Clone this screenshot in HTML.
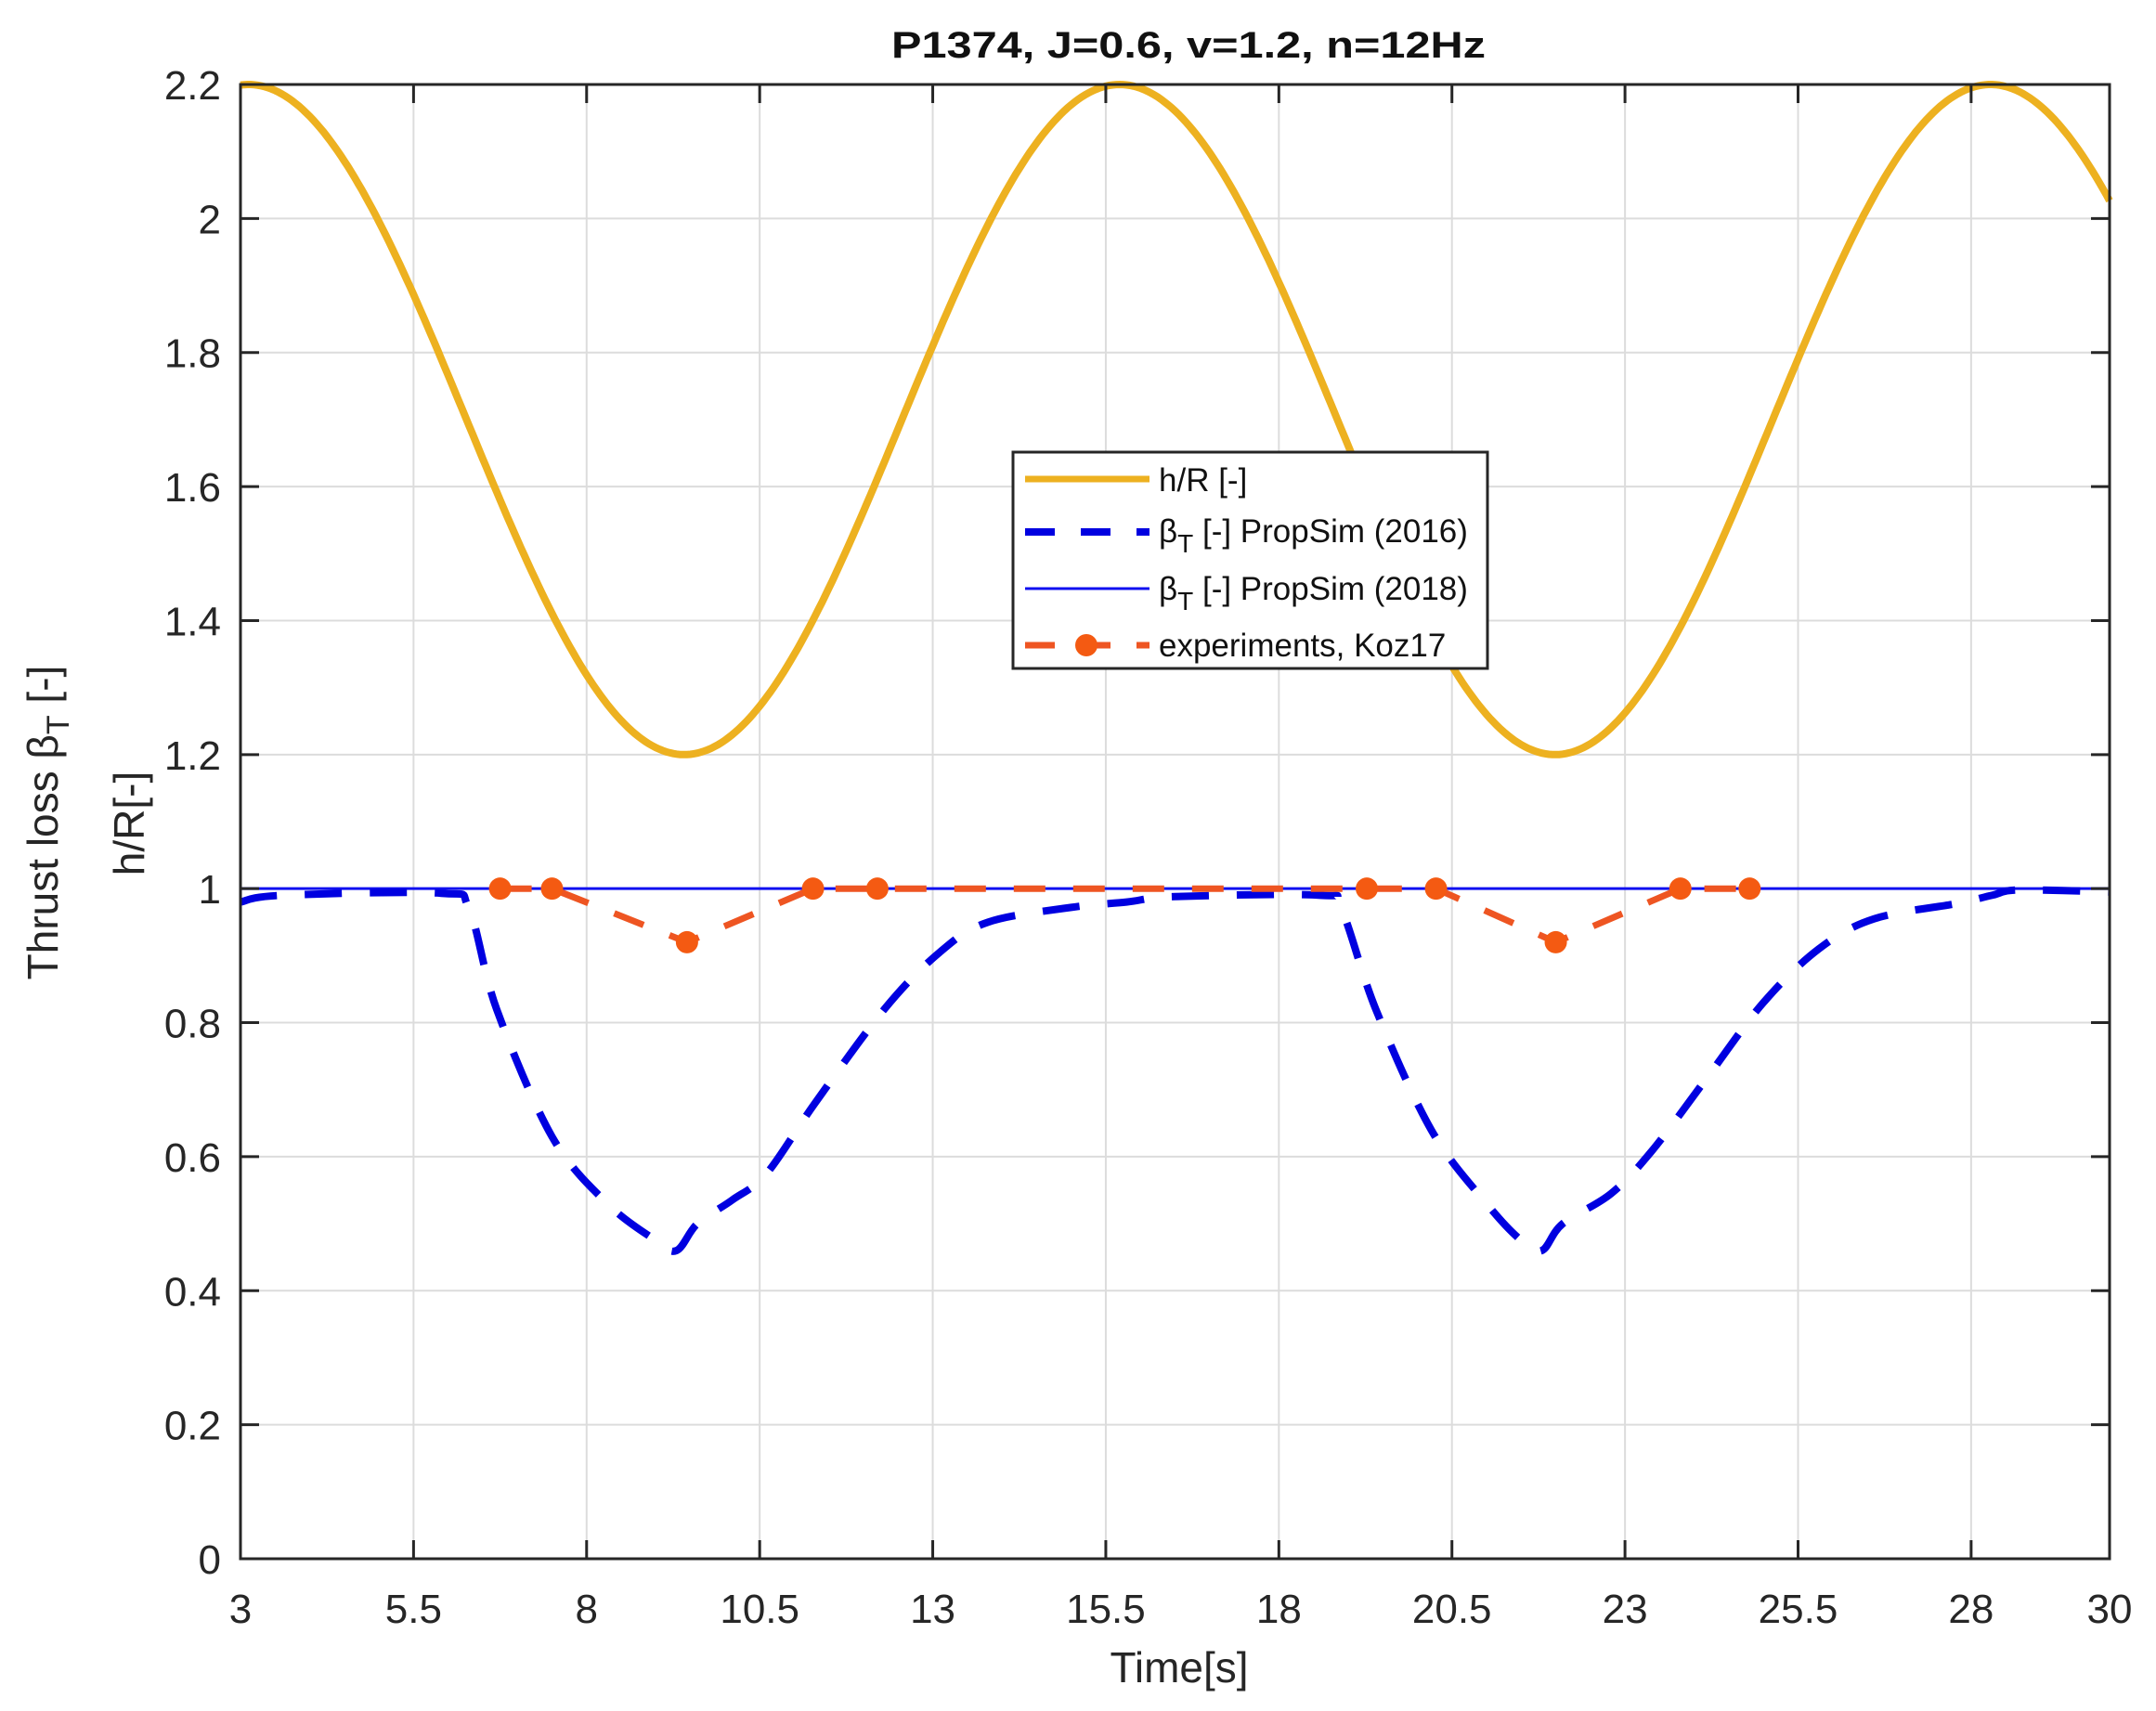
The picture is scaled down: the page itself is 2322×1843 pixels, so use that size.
<!DOCTYPE html>
<html><head><meta charset="utf-8">
<style>
html,body{margin:0;padding:0;background:#fff;}
svg{display:block;font-family:"Liberation Sans",Arial,sans-serif;}
</style></head>
<body>
<svg id="s" width="2322" height="1843" viewBox="0 0 2322 1843" xmlns="http://www.w3.org/2000/svg">
<rect width="2322" height="1843" fill="#fff"/>
<g id="grid" stroke="#dcdcdc" stroke-width="2"></g>
<g id="series"></g>
<rect x="259" y="91" width="2013" height="1588" fill="none" stroke="#262626" stroke-width="3"/>
<g id="ticks" stroke="#262626" stroke-width="3"></g>
<g id="labels" fill="#262626" font-size="44"></g>
<text x="1280" y="62" text-anchor="middle" font-size="40" font-weight="bold" fill="#111" textLength="640" lengthAdjust="spacingAndGlyphs">P1374, J=0.6, v=1.2, n=12Hz</text>
<text x="1270" y="1812" text-anchor="middle" font-size="46" fill="#262626">Time[s]</text>
<text transform="translate(62,886) rotate(-90)" text-anchor="middle" font-size="46" fill="#262626">Thrust loss β<tspan font-size="34" dy="12">T</tspan><tspan dy="-12"> [-]</tspan></text>
<text transform="translate(155,887) rotate(-90)" text-anchor="middle" font-size="46" fill="#262626">h/R[-]</text>
<g>
<rect x="1091" y="487" width="511" height="233" fill="#fff" stroke="#262626" stroke-width="3"/>
<line x1="1104" y1="516" x2="1238" y2="516" stroke="#EDB120" stroke-width="7"/>
<line x1="1104" y1="573" x2="1238" y2="573" stroke="#0000e0" stroke-width="8" stroke-dasharray="32,28"/>
<line x1="1104" y1="634" x2="1238" y2="634" stroke="#1010f0" stroke-width="3"/>
<line x1="1104" y1="695" x2="1238" y2="695" stroke="#EE5522" stroke-width="7" stroke-dasharray="32,28"/>
<circle cx="1170" cy="695" r="12" fill="#F45A12"/>
<g font-size="35" fill="#111">
<text x="1248" y="529">h/R [-]</text>
<text x="1248" y="584">β<tspan font-size="28" dy="11">T</tspan><tspan dy="-11"> [-] PropSim (2016)</tspan></text>
<text x="1248" y="646">β<tspan font-size="28" dy="11">T</tspan><tspan dy="-11"> [-] PropSim (2018)</tspan></text>
<text x="1248" y="707">experiments, Koz17</text>
</g>
</g>
</svg>
<script>
const NS="http://www.w3.org/2000/svg";
const X=t=>259+(t-3)*2013/27, Y=v=>1679-v*1588/2.2;
function el(p,tag,a,txt){const e=document.createElementNS(NS,tag);for(const k in a)e.setAttribute(k,a[k]);if(txt!==undefined)e.textContent=txt;document.getElementById(p).appendChild(e);return e;}
const xt=[3,5.5,8,10.5,13,15.5,18,20.5,23,25.5,28,30];
xt.forEach(t=>{const x=X(t);
 if(t>3&&t<30){el("grid","line",{x1:x,y1:91,x2:x,y2:1679});
 el("ticks","line",{x1:x,y1:1679,x2:x,y2:1659});el("ticks","line",{x1:x,y1:91,x2:x,y2:111});}
 el("labels","text",{x:x,y:1748,"text-anchor":"middle"},String(t));});
for(let i=0;i<=11;i++){const v=i*0.2,y=Y(v);
 if(i>0&&i<11){el("grid","line",{x1:259,y1:y,x2:2272,y2:y});
 el("ticks","line",{x1:259,y1:y,x2:279,y2:y});el("ticks","line",{x1:2272,y1:y,x2:2252,y2:y});}
 let s=(Math.round(v*10)/10).toString();
 el("labels","text",{x:238,y:y+16,"text-anchor":"end"},s);}
// orange
let d="";for(let t=3;t<=30.0001;t+=0.05){const v=1.7+0.5*Math.cos(2*Math.PI*(t-3.12)/12.58);d+=(d?"L":"M")+X(t).toFixed(1)+","+Y(v).toFixed(1);}
el("series","path",{d:d,fill:"none",stroke:"#EDB120","stroke-width":8});
// blue solid
el("series","line",{x1:259,y1:Y(1),x2:2272,y2:Y(1),stroke:"#1010f0","stroke-width":3});
// blue dashed spline
const bp=[[3,0.98],[3.6,0.99],[5.9,0.993],[6.3,0.97],[6.7,0.82],[7.5,0.63],[8.3,0.53],[9.0,0.475],[9.3,0.46],[9.6,0.5],[10.1,0.535],[10.6,0.575],[11.3,0.68],[12.3,0.82],[13.1,0.905],[13.8,0.95],[15,0.972],[15.8,0.98],[16.5,0.988],[18.6,0.99],[18.9,0.97],[19.4,0.82],[20.2,0.64],[21,0.53],[21.5,0.475],[21.8,0.46],[22.1,0.5],[22.8,0.545],[23.4,0.61],[24.2,0.72],[25,0.83],[25.8,0.91],[26.6,0.955],[27.8,0.978],[28.3,0.99],[28.7,0.998],[30,0.995]];
const P=bp.map(p=>[X(p[0]),Y(p[1])]);
let bd="M"+P[0][0].toFixed(1)+","+P[0][1].toFixed(1);
for(let i=0;i<P.length-1;i++){const p0=P[Math.max(0,i-1)],p1=P[i],p2=P[i+1],p3=P[Math.min(P.length-1,i+2)];
 const c1=[p1[0]+(p2[0]-p0[0])/6,p1[1]+(p2[1]-p0[1])/6],c2=[p2[0]-(p3[0]-p1[0])/6,p2[1]-(p3[1]-p1[1])/6];
 bd+="C"+c1.map(v=>v.toFixed(1))+" "+c2.map(v=>v.toFixed(1))+" "+p2.map(v=>v.toFixed(1));}
el("series","path",{d:bd,fill:"none",stroke:"#0000e0","stroke-width":8,"stroke-dasharray":"40,30"});
// experiments
const ep=[[6.75,1],[7.5,1],[9.45,0.92],[11.27,1],[12.2,1],[19.27,1],[20.27,1],[22.0,0.92],[23.8,1],[24.8,1]];
el("series","path",{d:"M"+ep.map(p=>X(p[0]).toFixed(1)+","+Y(p[1]).toFixed(1)).join("L"),fill:"none",stroke:"#EE5522","stroke-width":7,"stroke-dasharray":"34,30"});
ep.forEach(p=>el("series","circle",{cx:X(p[0]),cy:Y(p[1]),r:12,fill:"#F45A12"}));
</script>
</body></html>
